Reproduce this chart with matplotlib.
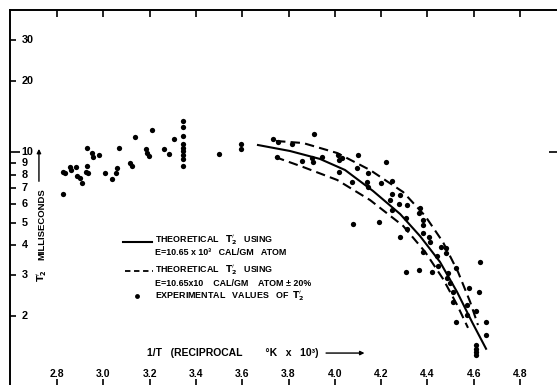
import matplotlib
matplotlib.use("Agg")
import matplotlib.pyplot as plt
from matplotlib.ticker import FixedLocator, FixedFormatter, NullFormatter

plt.rcParams['font.family'] = ['Liberation Sans', 'DejaVu Sans']
plt.rcParams['font.weight'] = 'bold'
plt.rcParams['mathtext.fontset'] = 'dejavusans'
plt.rcParams['mathtext.default'] = 'bf'

# experimental T2' values (1/T x 10^3, milliseconds)
exp_x = [2.825, 2.835, 2.827, 2.856, 2.859, 2.882, 2.885, 2.899, 2.909, 2.924,
         2.928, 2.933, 2.928, 2.950, 2.957, 2.983, 3.007, 3.036, 3.055, 3.060,
         3.068, 3.115, 3.123, 3.137, 3.184, 3.190, 3.199, 3.209, 3.262, 3.285,
         3.307, 3.346, 3.346, 3.346, 3.346, 3.346, 3.346, 3.346, 3.346, 3.346,
         3.500, 3.595, 3.595,
         3.734, 3.756, 3.749, 3.814, 3.911, 3.857, 3.900, 3.905, 3.946, 4.015,
         4.019, 4.030, 4.102, 4.095, 4.018, 4.145, 4.073, 4.138, 4.142, 4.220,
         4.200, 4.248, 4.246, 4.238, 4.282, 4.311, 4.279, 4.246, 4.192, 4.077,
         4.368, 4.365, 4.308, 4.311, 4.380, 4.382, 4.382, 4.282, 4.408, 4.411,
         4.459, 4.479, 4.480, 4.440, 4.380, 4.306, 4.365, 4.419, 4.447, 4.524,
         4.627, 4.624, 4.580, 4.509, 4.570, 4.610, 4.524, 4.570, 4.653, 4.653,
         4.608, 4.608, 4.608, 4.608, 4.490, 4.498, 4.483, 4.512]
exp_y = [8.24, 8.11, 6.62, 8.61, 8.38, 8.61, 7.90, 7.72, 7.40, 8.24,
         8.72, 8.16, 10.43, 9.93, 9.55, 9.71, 8.16, 7.65, 8.16, 8.52,
         10.43, 9.00, 8.72, 11.55, 10.27, 9.87, 9.64, 12.41, 10.30, 9.80,
         11.32, 13.60, 12.82, 11.70, 10.78, 10.43, 10.10, 9.71, 9.34, 8.72,
         9.78, 10.78, 10.27,
         11.32, 11.06, 9.55, 10.78, 11.90, 9.16, 9.40, 9.09, 9.55, 9.71,
         9.24, 9.40, 9.71, 8.52, 8.24, 8.16, 7.47, 7.47, 7.07, 9.06,
         7.40, 7.54, 6.62, 6.24, 6.56, 5.94, 6.00, 5.66, 5.05, 4.93,
         5.75, 5.48, 5.22, 4.68, 5.13, 4.88, 4.53, 4.36, 4.36, 4.15,
         3.95, 3.89, 3.70, 3.60, 3.76, 3.09, 3.14, 3.09, 3.28, 3.19,
         3.39, 2.54, 2.62, 2.30, 2.23, 2.11, 1.89, 2.02, 1.89, 1.66,
         1.50, 1.45, 1.40, 1.36, 3.04, 2.76, 2.89, 2.54]

# theoretical curve, E = 10.65 x 10^3 cal/gm atom
th_x = [3.668, 3.806, 3.936, 4.044, 4.165, 4.282, 4.368, 4.454, 4.528, 4.593, 4.653]
th_y = [10.71, 10.10, 9.34, 8.38, 6.82, 5.44, 4.38, 3.40, 2.53, 1.88, 1.45]

# theoretical curves for E +/- 20 %
hi_x = [3.746, 3.863, 4.010, 4.152, 4.295, 4.390, 4.467, 4.532, 4.584, 4.618]
hi_y = [11.14, 10.92, 9.90, 8.38, 6.75, 5.34, 4.13, 3.08, 2.30, 1.83]
lo_x = [3.742, 3.863, 4.010, 4.152, 4.295, 4.390, 4.467, 4.528, 4.575]
lo_y = [9.52, 8.63, 7.60, 6.24, 4.84, 3.75, 2.88, 2.23, 1.78]

xticks = [2.8, 3.0, 3.2, 3.4, 3.6, 3.8, 4.0, 4.2, 4.4, 4.6, 4.8]
yticks_minor = [2, 3, 4, 5, 6, 7, 8, 9, 20, 30]

T2P = r"$\mathbf{T}_{\mathbf{2}}^{\prime}$"

fig = plt.figure(figsize=(5.57, 3.85), dpi=100)
ax = fig.add_axes([10 / 557, -1 / 385, 549 / 557, 376 / 385])
ax.set_yscale('log')
ax.set_xlim(2.597, 4.968)
ax.set_ylim(1.006, 40.3)

for s in ax.spines.values():
    s.set_linewidth(1.4)

ax.plot(th_x, th_y, color='black', lw=1.5)
ax.plot(hi_x, hi_y, color='black', lw=1.5, linestyle=(0, (4.5, 2.5)))
ax.plot(lo_x, lo_y, color='black', lw=1.5, linestyle=(0, (4.5, 2.5)))
ax.plot(exp_x, exp_y, 'o', color='black', ms=3.8, mew=0)

# x axis: ticks inward, labels placed inside the frame
ax.xaxis.set_major_locator(FixedLocator(xticks))
ax.xaxis.set_major_formatter(FixedFormatter([f"{v:.1f}" for v in xticks]))
ax.tick_params(axis='x', which='both', direction='in', top=True, bottom=True,
               length=5, width=1.2, pad=-12.5, labelsize=7.5)

# y axis
ax.yaxis.set_major_locator(FixedLocator([10]))
ax.yaxis.set_minor_locator(FixedLocator(yticks_minor))
ax.yaxis.set_major_formatter(NullFormatter())
ax.yaxis.set_minor_formatter(NullFormatter())
ax.tick_params(axis='y', which='major', direction='in', left=True, right=True,
               length=7, width=1.2)
ax.tick_params(axis='y', which='minor', direction='in', left=True, right=False,
               length=4, width=1.2)
ytr = ax.get_yaxis_transform()
for v in [10] + yticks_minor:
    ax.text(0.021, v, str(v), transform=ytr, ha='left', va='center', fontsize=7.8)

# y label
ax.text(2.735, 4.95, "MILLISECONDS", rotation=90, ha='center', va='center', fontsize=6.8)
ax.text(2.735, 2.98, T2P, rotation=90, ha='center', va='center', fontsize=6.8)
ax.annotate('', xy=(2.722, 10.6), xytext=(2.722, 7.3),
            arrowprops=dict(arrowstyle='-|>', lw=1.0, color='black', mutation_scale=6))

# x label
ax.text(3.189, 1.39, "1/T   (RECIPROCAL        °K   x   10³)", ha='left', va='center',
        fontsize=7.5)
ax.annotate('', xy=(4.14, 1.39), xytext=(3.950, 1.39),
            arrowprops=dict(arrowstyle='-|>', lw=1.0, color='black', mutation_scale=6))

# legend drawn by hand
ta = ax.transAxes
fs = 6.4
ax.plot([0.2058, 0.2587], [0.3830, 0.3830], color='black', lw=1.5, transform=ta)
ax.text(0.2641, 0.3880, "THEORETICAL   " + T2P + "   USING", transform=ta,
        ha='left', va='center', fontsize=fs)
ax.text(0.2641, 0.3540, "E=10.65 x 10³   CAL/GM   ATOM", transform=ta,
        ha='left', va='center', fontsize=fs)
ax.plot([0.2095, 0.2605], [0.3059, 0.3059], color='black', lw=1.3,
        linestyle=(0, (3, 2)), transform=ta)
ax.text(0.2641, 0.3080, "THEORETICAL   " + T2P + "   USING", transform=ta,
        ha='left', va='center', fontsize=fs)
ax.text(0.2641, 0.2713, "E=10.65x10    CAL/GM    ATOM ± 20%", transform=ta,
        ha='left', va='center', fontsize=fs)
ax.plot([0.2313], [0.2394], 'o', color='black', ms=3.5, mew=0, transform=ta)
ax.text(0.2641, 0.2394, "EXPERIMENTAL   VALUES   OF  " + T2P, transform=ta,
        ha='left', va='center', fontsize=fs)

fig.savefig("out.png", dpi=100)
